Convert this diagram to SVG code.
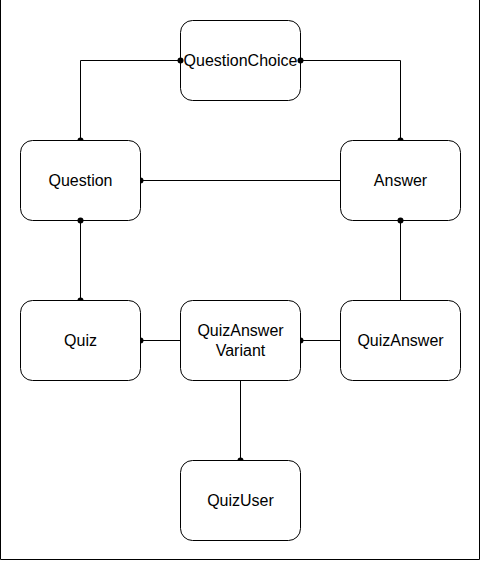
<svg xmlns="http://www.w3.org/2000/svg" width="481" height="561" viewBox="0 0 481 561">
<style>
.node rect{fill:#fff;stroke:#000;stroke-width:1}
.node text{font-family:"Liberation Sans",Arial,sans-serif;font-size:16px;fill:#000;text-anchor:middle;dominant-baseline:central}
.edge{fill:none;stroke:#000;stroke-width:1}
.dot{fill:#000}
</style>
<rect x="0" y="0" width="481" height="561" fill="#fff"/>
<path d="M0.5,0 V559.5 H479.5 V0" fill="none" stroke="#000"/>
<g id="QuestionChoice" class="node"><rect x="180.5" y="20.5" width="120" height="80" rx="12"/><text x="240.5" y="60.5">QuestionChoice</text></g>
<g id="Question" class="node"><rect x="20.5" y="140.5" width="120" height="80" rx="12"/><text x="80.5" y="180.5">Question</text></g>
<g id="Answer" class="node"><rect x="340.5" y="140.5" width="120" height="80" rx="12"/><text x="400.5" y="180.5">Answer</text></g>
<g id="Quiz" class="node"><rect x="20.5" y="300.5" width="120" height="80" rx="12"/><text x="80.5" y="340.5">Quiz</text></g>
<g id="QuizAnswerVariant" class="node"><rect x="180.5" y="300.5" width="120" height="80" rx="12"/><text x="240.5" y="330.5">QuizAnswer</text><text x="240.5" y="350.5">Variant</text></g>
<g id="QuizAnswer" class="node"><rect x="340.5" y="300.5" width="120" height="80" rx="12"/><text x="400.5" y="340.5">QuizAnswer</text></g>
<g id="QuizUser" class="node"><rect x="180.5" y="460.5" width="120" height="80" rx="12"/><text x="240.5" y="500.5">QuizUser</text></g>
<g id="connectors">
<path class="edge" d="M180.5,60.5 H80.5 V140.5"/>
<path class="edge" d="M300.5,60.5 H400.5 V140.5"/>
<path class="edge" d="M140.5,180.5 H340.5"/>
<path class="edge" d="M80.5,220.5 V300.5"/>
<path class="edge" d="M180.5,340.5 H140.5"/>
<path class="edge" d="M340.5,340.5 H300.5"/>
<path class="edge" d="M240.5,380.5 V460.5"/>
<path class="edge" d="M400.5,300.5 V220.5"/>
<circle class="dot" cx="180.5" cy="60.5" r="3"/>
<circle class="dot" cx="300.5" cy="60.5" r="3"/>
<circle class="dot" cx="80.5" cy="220.5" r="3"/>
<circle class="dot" cx="400.5" cy="220.5" r="3"/>
<path class="dot" d="M77.5,140.5 A3,3 0 0 1 83.5,140.5 Z"/>
<path class="dot" d="M397.5,140.5 A3,3 0 0 1 403.5,140.5 Z"/>
<path class="dot" d="M77.5,300.5 A3,3 0 0 1 83.5,300.5 Z"/>
<path class="dot" d="M237.5,460.5 A3,3 0 0 1 243.5,460.5 Z"/>
<path class="dot" d="M140.5,177.5 A3,3 0 0 1 140.5,183.5 Z"/>
<path class="dot" d="M140.5,337.5 A3,3 0 0 1 140.5,343.5 Z"/>
<path class="dot" d="M300.5,337.5 A3,3 0 0 1 300.5,343.5 Z"/>
</g>
</svg>
